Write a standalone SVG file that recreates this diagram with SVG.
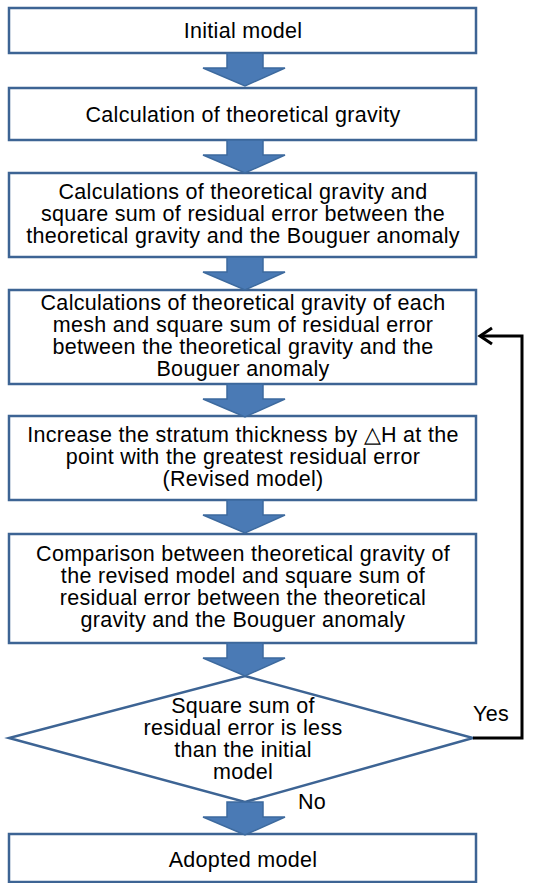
<svg xmlns="http://www.w3.org/2000/svg" width="536" height="883" viewBox="0 0 536 883">
<style>
.box{fill:#fff;stroke:#3d6494;stroke-width:2.5}
.arr{fill:#4a7ab5;stroke:#3d6a9e;stroke-width:1.5}
.t{font-family:"Liberation Sans",Arial,sans-serif;font-size:21.5px;letter-spacing:0.3px;fill:#000;text-anchor:middle}
.link{fill:none;stroke:#000;stroke-width:3}
</style>
<defs>
<path id="ba" d="M227,0 H263 V15 H285 L245,33 L203,15 H227 Z"/>
</defs>
<rect width="536" height="883" fill="#fff"/>
<g id="n1"><rect class="box" x="9" y="8" width="467" height="45"/><text class="t" x="243" y="38">Initial model</text></g>
<g id="n2"><rect class="box" x="9" y="88" width="467" height="52"/><text class="t" x="243" y="122">Calculation of theoretical gravity</text></g>
<g id="n3"><rect class="box" x="9" y="173" width="467" height="84"/>
<text class="t" x="243" y="199">Calculations of theoretical gravity and</text>
<text class="t" x="243" y="221">square sum of residual error between the</text>
<text class="t" x="243" y="243">theoretical gravity and the Bouguer anomaly</text></g>
<g id="n4"><rect class="box" x="9" y="290" width="467" height="94"/>
<text class="t" x="243" y="310">Calculations of theoretical gravity of each</text>
<text class="t" x="243" y="332">mesh and square sum of residual error</text>
<text class="t" x="243" y="354">between the theoretical gravity and the</text>
<text class="t" x="243" y="376">Bouguer anomaly</text></g>
<g id="n5"><rect class="box" x="9" y="416" width="467" height="84"/>
<text class="t" x="243" y="442">Increase the stratum thickness by △H at the</text>
<text class="t" x="243" y="464">point with the greatest residual error</text>
<text class="t" x="243" y="486">(Revised model)</text></g>
<g id="n6"><rect class="box" x="9" y="534" width="467" height="109"/>
<text class="t" x="243" y="561">Comparison between theoretical gravity of</text>
<text class="t" x="243" y="583">the revised model and square sum of</text>
<text class="t" x="243" y="605">residual error between the theoretical</text>
<text class="t" x="243" y="627">gravity and the Bouguer anomaly</text></g>
<g id="n7"><polygon class="box" points="245,676 473,738 245,802 9,738"/>
<text class="t" x="243" y="713">Square sum of</text>
<text class="t" x="243" y="735">residual error is less</text>
<text class="t" x="243" y="757">than the initial</text>
<text class="t" x="243" y="779">model</text></g>
<g id="n8"><rect class="box" x="9" y="834" width="467" height="48"/><text class="t" x="243" y="867">Adopted model</text></g>
<g id="connectors">
<use href="#ba" class="arr" y="53"/>
<use href="#ba" class="arr" y="140"/>
<use href="#ba" class="arr" y="257"/>
<use href="#ba" class="arr" y="384"/>
<use href="#ba" class="arr" y="500"/>
<use href="#ba" class="arr" y="643"/>
<use href="#ba" class="arr" y="802"/>
<path class="link" d="M473,738 H522 V336 H480"/>
<path class="link" d="M492,328 L480,336 L492,344"/>
<text class="t" x="491" y="721">Yes</text>
<text class="t" x="312" y="809">No</text>
</g>
</svg>
